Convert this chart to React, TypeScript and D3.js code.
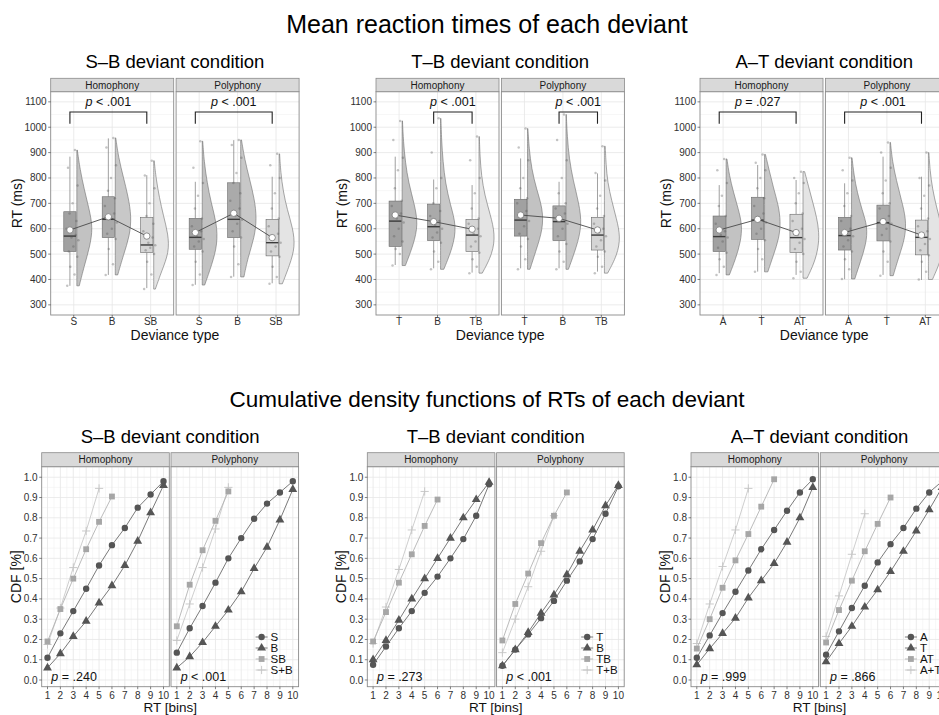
import * as d3 from "d3";

const FONT = "'Liberation Sans', Arial, Helvetica, sans-serif";
const FACETS = ["Homophony", "Polyphony"];

// ---------- mean RTs (top row) ----------
const typesSB = ["S", "B", "SB"];
const typesTB = ["T", "B", "TB"];
const typesAT = ["A", "T", "AT"];

// [lower whisker, q1, median, q3, upper whisker, mean] (ms)
const boxSBHom = [[375, 510, 571, 667, 884, 595], [418, 565, 637, 726, 956, 647], [366, 506, 536, 644, 811, 571]];
const boxSBPol = [[379, 519, 566, 641, 785, 585], [411, 565, 637, 781, 949, 661], [385, 493, 545, 637, 805, 565]];
const boxTBHom = [[457, 530, 630, 709, 884, 654], [444, 553, 608, 697, 794, 628], [427, 510, 575, 637, 772, 598]];
const boxTBPol = [[444, 571, 634, 716, 877, 654], [444, 553, 628, 690, 785, 641], [431, 516, 575, 645, 818, 595]];
const boxATHom = [[425, 510, 569, 650, 772, 595], [431, 558, 634, 724, 851, 637], [418, 506, 565, 657, 792, 585]];
const boxATPol = [[401, 516, 573, 645, 779, 585], [418, 552, 624, 693, 884, 628], [398, 497, 566, 634, 805, 575]];

// half violin widths (relative), 8 steps from lowest to highest RT of the group
const violSBHom = [[0.15, 0.45, 0.8, 1, 0.75, 0.45, 0.2, 0.03], [0.15, 0.5, 0.9, 1, 0.8, 0.5, 0.2, 0.03], [0.1, 0.5, 0.95, 0.9, 0.6, 0.35, 0.15, 0.03]];
const violSBPol = [[0.15, 0.6, 0.95, 0.9, 0.55, 0.3, 0.12, 0.03], [0.2, 0.45, 0.85, 1, 0.85, 0.55, 0.25, 0.05], [0.2, 0.65, 1, 0.85, 0.5, 0.25, 0.1, 0.03]];
const violTBHom = [[0.2, 0.7, 1, 0.75, 0.4, 0.2, 0.08, 0.02], [0.2, 0.75, 1, 0.6, 0.3, 0.15, 0.06, 0.02], [0.2, 0.85, 1, 0.7, 0.35, 0.15, 0.06, 0.02]];
const violTBPol = [[0.15, 0.55, 0.95, 0.95, 0.55, 0.25, 0.1, 0.02], [0.15, 0.65, 1, 0.8, 0.45, 0.2, 0.08, 0.02], [0.2, 0.8, 1, 0.75, 0.45, 0.2, 0.1, 0.05]];
const violATHom = [[0.2, 0.6, 0.9, 1, 0.75, 0.45, 0.2, 0.05], [0.2, 0.55, 0.9, 1, 0.85, 0.55, 0.3, 0.05], [0.25, 0.7, 0.95, 1, 0.85, 0.6, 0.35, 0.1]];
const violATPol = [[0.2, 0.55, 0.9, 1, 0.65, 0.35, 0.15, 0.03], [0.2, 0.55, 0.95, 1, 0.7, 0.4, 0.15, 0.03], [0.25, 0.75, 1, 0.8, 0.5, 0.25, 0.1, 0.03]];

// participant RTs (ms), a subset of the raw points
const ptsSBHom = [
  [375, 420, 450, 490, 510, 530, 555, 565, 575, 600, 630, 660, 700, 770, 840, 910],
  [418, 460, 520, 560, 580, 600, 625, 640, 660, 690, 720, 750, 800, 850, 920, 958],
  [362, 420, 470, 500, 515, 525, 535, 545, 565, 590, 620, 650, 700, 760, 810, 868],
];
const ptsSBPol = [
  [378, 420, 470, 510, 530, 550, 560, 570, 590, 610, 640, 680, 730, 780, 840, 945],
  [410, 460, 530, 565, 590, 620, 635, 650, 680, 710, 740, 780, 820, 880, 930, 950],
  [383, 410, 450, 490, 510, 530, 545, 560, 580, 610, 640, 680, 740, 800, 850, 895],
];
const ptsTBHom = [
  [455, 500, 520, 550, 570, 600, 625, 640, 660, 690, 710, 760, 830, 880, 950, 1025],
  [440, 470, 510, 545, 565, 585, 600, 615, 630, 650, 670, 700, 760, 800, 900, 1035],
  [425, 450, 480, 505, 530, 550, 570, 580, 600, 620, 640, 680, 740, 800, 870, 963],
];
const ptsTBPol = [
  [440, 480, 530, 560, 580, 610, 630, 645, 670, 700, 720, 760, 800, 870, 920, 995],
  [440, 470, 510, 540, 570, 600, 620, 635, 660, 680, 700, 740, 800, 870, 950, 1050],
  [425, 450, 490, 510, 530, 555, 570, 585, 600, 620, 650, 680, 730, 790, 820, 925],
];
const ptsATHom = [
  [418, 450, 480, 505, 525, 550, 565, 575, 590, 620, 650, 690, 730, 780, 830, 875],
  [430, 480, 520, 555, 580, 600, 625, 640, 660, 690, 720, 760, 800, 830, 860, 893],
  [405, 430, 470, 500, 520, 545, 560, 575, 600, 630, 660, 700, 740, 780, 800, 825],
];
const ptsATPol = [
  [402, 440, 480, 510, 530, 555, 570, 585, 600, 630, 650, 690, 740, 790, 830, 880],
  [415, 470, 510, 550, 575, 600, 620, 635, 650, 680, 700, 740, 790, 840, 900, 940],
  [400, 430, 470, 495, 515, 540, 560, 575, 590, 610, 640, 680, 730, 770, 800, 900],
];

const bracketSB = ["S", "SB"];
const bracketTB = ["B", "TB"];
const bracketAT = ["A", "AT"];
const pSB = ["< .001", "< .001"];
const pTB = ["< .001", "< .001"];
const pAT = ["= .027", "< .001"];
const rtTicks = [300, 400, 500, 600, 700, 800, 900, 1000, 1100];

// ---------- CDFs (bottom row) ----------
const binTicks = [1, 2, 3, 4, 5, 6, 7, 8, 9, 10];
const cdfTicks = [0, 0.1, 0.2, 0.3, 0.4, 0.5, 0.6, 0.7, 0.8, 0.9, 1.0];
const seriesSB = ["S", "B", "SB", "S+B"];
const seriesTB = ["T", "B", "TB", "T+B"];
const seriesAT = ["A", "T", "AT", "A+T"];

const cdfSBHom = [
  [0.11, 0.23, 0.34, 0.45, 0.565, 0.665, 0.75, 0.85, 0.915, 0.98],
  [0.06, 0.13, 0.215, 0.29, 0.38, 0.465, 0.565, 0.685, 0.825, 0.96],
  [0.19, 0.35, 0.5, 0.645, 0.78, 0.905],
  [0.175, 0.355, 0.555, 0.735, 0.945],
];
const cdfSBPol = [
  [0.135, 0.255, 0.365, 0.48, 0.6, 0.7, 0.795, 0.87, 0.925, 0.98],
  [0.06, 0.115, 0.185, 0.265, 0.345, 0.435, 0.55, 0.655, 0.79, 0.94],
  [0.265, 0.47, 0.64, 0.785, 0.93],
  [0.195, 0.375, 0.555, 0.745, 0.95],
];
const cdfTBHom = [
  [0.075, 0.165, 0.255, 0.34, 0.43, 0.51, 0.6, 0.695, 0.81, 0.965],
  [0.1, 0.195, 0.295, 0.4, 0.5, 0.6, 0.7, 0.8, 0.89, 0.975],
  [0.19, 0.335, 0.48, 0.62, 0.76, 0.89],
  [0.18, 0.36, 0.545, 0.74, 0.93],
];
const cdfTBPol = [
  [0.07, 0.15, 0.225, 0.305, 0.39, 0.49, 0.585, 0.695, 0.82, 0.955],
  [0.07, 0.15, 0.235, 0.33, 0.42, 0.52, 0.635, 0.74, 0.86, 0.96],
  [0.195, 0.375, 0.525, 0.675, 0.81, 0.925],
  [0.135, 0.3, 0.46, 0.635, 0.81],
];
const cdfATHom = [
  [0.11, 0.22, 0.33, 0.435, 0.54, 0.645, 0.74, 0.835, 0.925, 0.99],
  [0.075, 0.155, 0.23, 0.305, 0.405, 0.49, 0.575, 0.68, 0.8, 0.95],
  [0.155, 0.3, 0.455, 0.59, 0.72, 0.855, 0.99],
  [0.18, 0.375, 0.56, 0.74, 0.945],
];
const cdfATPol = [
  [0.125, 0.24, 0.355, 0.465, 0.58, 0.67, 0.75, 0.845, 0.925, 0.98],
  [0.09, 0.18, 0.265, 0.36, 0.445, 0.535, 0.635, 0.735, 0.84, 0.95],
  [0.185, 0.345, 0.49, 0.635, 0.77, 0.9],
  [0.215, 0.415, 0.62, 0.82],
];
const pCdfSB = ["= .240", "< .001"];
const pCdfTB = ["= .273", "< .001"];
const pCdfAT = ["= .999", "= .866"];

const rtRows = [
  { title: "S–B deviant condition", types: typesSB, box: [boxSBHom, boxSBPol], viol: [violSBHom, violSBPol], pts: [ptsSBHom, ptsSBPol], bracket: bracketSB, p: pSB },
  { title: "T–B deviant condition", types: typesTB, box: [boxTBHom, boxTBPol], viol: [violTBHom, violTBPol], pts: [ptsTBHom, ptsTBPol], bracket: bracketTB, p: pTB },
  { title: "A–T deviant condition", types: typesAT, box: [boxATHom, boxATPol], viol: [violATHom, violATPol], pts: [ptsATHom, ptsATPol], bracket: bracketAT, p: pAT },
];
const cdfRows = [
  { title: "S–B deviant condition", names: seriesSB, cdf: [cdfSBHom, cdfSBPol], p: pCdfSB },
  { title: "T–B deviant condition", names: seriesTB, cdf: [cdfTBHom, cdfTBPol], p: pCdfTB },
  { title: "A–T deviant condition", names: seriesAT, cdf: [cdfATHom, cdfATPol], p: pCdfAT },
];

// ---------- layout ----------
const RT_LEFTS = [50.7, 376, 700];
const RT_W = 123;
const RT_GAP = 2.4;
const RT_TOP = 91.7, RT_BOTTOM = 315, RT_STRIP = 13.4;

const CDF_LEFTS = [41.7, 367.3, 691];
const CDF_W = 127.6;
const CDF_GAP = 1.7;
const CDF_TOP = 466.7, CDF_BOTTOM = 686.7, CDF_STRIP = 14;

const JITTER = [-0.14, 0.05, -0.06, 0.12, -0.1, 0.02, 0.15, -0.03, 0.08, -0.16, 0.1, -0.08, 0.0, 0.13, -0.12, 0.06];
const BOX_FILL = ["#a1a1a1", "#aaaaaa", "#d5d5d5"];
const VIOL_FILL = ["#c2c2c2", "#c8c8c8", "#e4e4e4"];
const GRID_MAJOR = "#e6e6e6";
const GRID_MINOR = "#f2f2f2";
const BORDER = "#8a8a8a";
const TXT = "#303030";

const SYMBOLS = [d3.symbolCircle, d3.symbolTriangle, d3.symbolSquare, d3.symbolPlus];
const SYM_SIZE = [32, 34, 34, 24];
const SYM_COLOR = ["#555555", "#555555", "#a6a6a6", "#c4c4c4"];
const LINE_COLOR = ["#6b6b6b", "#6b6b6b", "#b3b3b3", "#c8c8c8"];

function Strip({ x0, w, y0, h, label }: any) {
  return (
    <g>
      <rect x={x0} y={y0} width={w} height={h} fill="#d9d9d9" stroke={BORDER} strokeWidth={0.8} />
      <text x={x0 + w / 2} y={y0 + h / 2 + 3.6} textAnchor="middle" fontSize={10} fill="#1a1a1a">{label}</text>
    </g>
  );
}

function PText({ x, y, rest, anchor }: any) {
  return (
    <text x={x} y={y} textAnchor={anchor} fontSize={12.5} fill="#111">
      <tspan fontStyle="italic">p</tspan>{" " + rest}
    </text>
  );
}

function RTPanel({ left, facet, row }: any) {
  const right = left + RT_W;
  const x = d3.scalePoint<string>().domain(row.types).range([left, right]).padding(0.6);
  const step = x.step();
  const y = d3.scaleLinear().domain([260, 1140]).range([RT_BOTTOM, RT_TOP]);
  const bx = (t: string) => (x(t) as number) - 0.1 * step;
  const boxW = 0.32 * step;
  const vW = 0.42 * step;
  const box = row.box[facet];
  const viol = row.viol[facet];
  const pts = row.pts[facet];
  const minors = d3.range(350, 1140, 100);
  const meanLine = d3.line<string>().x((t) => bx(t)).y((t, i) => y(box[i][5]));
  const [b0, b1] = row.bracket;

  return (
    <g>
      <rect x={left} y={RT_TOP} width={RT_W} height={RT_BOTTOM - RT_TOP} fill="#fff" />
      {minors.map((v) => <line key={"n" + v} x1={left} x2={right} y1={y(v)} y2={y(v)} stroke={GRID_MINOR} strokeWidth={0.6} />)}
      {rtTicks.map((v) => <line key={"m" + v} x1={left} x2={right} y1={y(v)} y2={y(v)} stroke={GRID_MAJOR} strokeWidth={0.8} />)}
      {row.types.map((t: string) => <line key={"v" + t} x1={x(t)} x2={x(t)} y1={RT_TOP} y2={RT_BOTTOM} stroke={GRID_MAJOR} strokeWidth={0.8} />)}

      {row.types.map((t: string, i: number) => {
        const lo = d3.min(pts[i]) as number;
        const hi = d3.max(pts[i]) as number;
        const v0 = (x(t) as number) + 0.08 * step;
        const knots = viol[i].map((w: number, k: number) => [lo + (k * (hi - lo)) / (viol[i].length - 1), w]);
        const area = d3.area<number[]>().curve(d3.curveBasis).y((d) => y(d[0])).x0(v0).x1((d) => v0 + d[1] * vW);
        return <path key={"vi" + t} d={area(knots) as string} fill={VIOL_FILL[i]} stroke="#6e6e6e" strokeWidth={0.6} />;
      })}

      {row.types.map((t: string, i: number) => {
        const [lo, q1, med, q3, hi] = box[i];
        const c = bx(t);
        return (
          <g key={"bx" + t}>
            <line x1={c} x2={c} y1={y(lo)} y2={y(q1)} stroke="#777" strokeWidth={0.7} />
            <line x1={c} x2={c} y1={y(q3)} y2={y(hi)} stroke="#777" strokeWidth={0.7} />
            <rect x={c - boxW / 2} y={y(q3)} width={boxW} height={y(q1) - y(q3)} fill={BOX_FILL[i]} stroke="#6a6a6a" strokeWidth={0.6} />
            <line x1={c - boxW / 2} x2={c + boxW / 2} y1={y(med)} y2={y(med)} stroke="#3a3a3a" strokeWidth={1.4} />
          </g>
        );
      })}

      {row.types.map((t: string, i: number) =>
        pts[i].map((v: number, k: number) => (
          <circle key={"p" + t + k} cx={(x(t) as number) - 0.03 * step + JITTER[k % JITTER.length] * step} cy={y(v)} r={1.25} fill="#555" fillOpacity={0.35} />
        ))
      )}

      <path d={meanLine(row.types) as string} fill="none" stroke="#4a4a4a" strokeWidth={0.9} />
      {row.types.map((t: string, i: number) => (
        <circle key={"mn" + t} cx={bx(t)} cy={y(box[i][5])} r={3.2} fill="#fff" stroke="#777" strokeWidth={0.8} />
      ))}

      <path d={`M${bx(b0)},${y(1014)}V${y(1060)}H${bx(b1)}V${y(1014)}`} fill="none" stroke="#222" strokeWidth={1.1} />
      <PText x={(bx(b0) + bx(b1)) / 2} y={y(1083)} rest={row.p[facet]} anchor="middle" />

      <rect x={left} y={RT_TOP} width={RT_W} height={RT_BOTTOM - RT_TOP} fill="none" stroke={BORDER} strokeWidth={0.9} />
      <Strip x0={left} w={RT_W} y0={RT_TOP - RT_STRIP} h={RT_STRIP} label={FACETS[facet]} />

      {row.types.map((t: string) => (
        <g key={"xt" + t}>
          <line x1={x(t)} x2={x(t)} y1={RT_BOTTOM} y2={RT_BOTTOM + 2.5} stroke={TXT} strokeWidth={0.6} />
          <text x={x(t)} y={RT_BOTTOM + 9.5} textAnchor="middle" fontSize={10} fill={TXT}>{t}</text>
        </g>
      ))}
      {facet === 0 && rtTicks.map((v) => (
        <g key={"yt" + v}>
          <line x1={left - 2.5} x2={left} y1={y(v)} y2={y(v)} stroke={TXT} strokeWidth={0.6} />
          <text x={left - 4} y={y(v) + 3.5} textAnchor="end" fontSize={10} fill={TXT}>{v}</text>
        </g>
      ))}
    </g>
  );
}

function CDFPanel({ left, facet, row }: any) {
  const right = left + CDF_W;
  const x = d3.scaleLinear().domain([0.55, 10.45]).range([left, right]);
  const y = d3.scaleLinear().domain([-0.033, 1.052]).range([CDF_BOTTOM, CDF_TOP]);
  const xMinor = d3.range(1.5, 10, 1);
  const yMinor = d3.range(0.05, 1.06, 0.1);
  const series = row.cdf[facet];
  const line = d3.line<number>().x((v, i) => x(binTicks[i])).y((v) => y(v));
  const order = [3, 2, 1, 0];
  const kx = right - 37;

  return (
    <g>
      <rect x={left} y={CDF_TOP} width={CDF_W} height={CDF_BOTTOM - CDF_TOP} fill="#fff" />
      {xMinor.map((v) => <line key={"xn" + v} x1={x(v)} x2={x(v)} y1={CDF_TOP} y2={CDF_BOTTOM} stroke={GRID_MINOR} strokeWidth={0.6} />)}
      {yMinor.map((v) => <line key={"yn" + v} x1={left} x2={right} y1={y(v)} y2={y(v)} stroke={GRID_MINOR} strokeWidth={0.6} />)}
      {binTicks.map((v) => <line key={"xm" + v} x1={x(v)} x2={x(v)} y1={CDF_TOP} y2={CDF_BOTTOM} stroke={GRID_MAJOR} strokeWidth={0.8} />)}
      {cdfTicks.map((v) => <line key={"ym" + v} x1={left} x2={right} y1={y(v)} y2={y(v)} stroke={GRID_MAJOR} strokeWidth={0.8} />)}

      {order.map((s) => (
        <g key={"s" + s}>
          <path d={line(series[s]) as string} fill="none" stroke={LINE_COLOR[s]} strokeWidth={0.9} />
          {series[s].map((v: number, i: number) => {
            const sym = d3.symbol(SYMBOLS[s], SYM_SIZE[s]);
            return s === 3 ? (
              <path key={i} d={sym() as string} transform={`translate(${x(binTicks[i])},${y(v)})`} fill="none" stroke={SYM_COLOR[s]} strokeWidth={0.9} />
            ) : (
              <path key={i} d={sym() as string} transform={`translate(${x(binTicks[i])},${y(v)})`} fill={SYM_COLOR[s]} />
            );
          })}
        </g>
      ))}

      <PText x={x(1.3)} y={y(-0.004)} rest={row.p[facet]} anchor="start" />

      {facet === 1 && row.names.map((n: string, s: number) => {
        const ly = 637 + s * 11;
        const sym = d3.symbol(SYMBOLS[s], SYM_SIZE[s]);
        return (
          <g key={"lg" + n}>
            <line x1={kx - 6} x2={kx + 6} y1={ly} y2={ly} stroke={LINE_COLOR[s]} strokeWidth={0.9} />
            <path d={sym() as string} transform={`translate(${kx},${ly})`} fill={s === 3 ? "none" : SYM_COLOR[s]} stroke={s === 3 ? SYM_COLOR[s] : "none"} strokeWidth={0.9} />
            <text x={kx + 9} y={ly + 4.2} fontSize={11.5} fill="#111">{n}</text>
          </g>
        );
      })}

      <rect x={left} y={CDF_TOP} width={CDF_W} height={CDF_BOTTOM - CDF_TOP} fill="none" stroke={BORDER} strokeWidth={0.9} />
      <Strip x0={left} w={CDF_W} y0={CDF_TOP - CDF_STRIP} h={CDF_STRIP} label={FACETS[facet]} />

      {binTicks.map((v) => (
        <g key={"xt" + v}>
          <line x1={x(v)} x2={x(v)} y1={CDF_BOTTOM} y2={CDF_BOTTOM + 2.5} stroke={TXT} strokeWidth={0.6} />
          <text x={x(v)} y={CDF_BOTTOM + 11.8} textAnchor="middle" fontSize={10} fill={TXT}>{v}</text>
        </g>
      ))}
      {facet === 0 && cdfTicks.map((v) => (
        <g key={"yt" + v}>
          <line x1={left - 2.5} x2={left} y1={y(v)} y2={y(v)} stroke={TXT} strokeWidth={0.6} />
          <text x={left - 4} y={y(v) + 3.5} textAnchor="end" fontSize={10} fill={TXT}>{v.toFixed(1)}</text>
        </g>
      ))}
    </g>
  );
}

export default function App() {
  return (
    <svg width={939} height={715} style={{ position: "absolute", left: 0, top: 0, background: "#fff" }} fontFamily={FONT}>
      <text x={487} y={33} textAnchor="middle" fontSize={25} fill="#000">Mean reaction times of each deviant</text>
      <text x={487} y={407} textAnchor="middle" fontSize={22.5} fill="#000">Cumulative density functions of RTs of each deviant</text>

      {rtRows.map((row, c) => {
        const l = RT_LEFTS[c];
        const mid = l + RT_W + RT_GAP / 2;
        const cy = (RT_TOP + RT_BOTTOM) / 2;
        return (
          <g key={"rt" + c}>
            <text x={mid} y={68.3} textAnchor="middle" fontSize={18.5} fill="#000">{row.title}</text>
            <RTPanel left={l} facet={0} row={row} />
            <RTPanel left={l + RT_W + RT_GAP} facet={1} row={row} />
            <text x={mid} y={340} textAnchor="middle" fontSize={14} fill="#111">Deviance type</text>
            <text transform={`translate(${l - 34},${cy}) rotate(-90)`} y={5} textAnchor="middle" fontSize={14} fill="#111">RT (ms)</text>
          </g>
        );
      })}

      {cdfRows.map((row, c) => {
        const l = CDF_LEFTS[c];
        const mid = l + CDF_W + CDF_GAP / 2;
        const cy = (CDF_TOP + CDF_BOTTOM) / 2;
        return (
          <g key={"cdf" + c}>
            <text x={mid} y={442.7} textAnchor="middle" fontSize={18.5} fill="#000">{row.title}</text>
            <CDFPanel left={l} facet={0} row={row} />
            <CDFPanel left={l + CDF_W + CDF_GAP} facet={1} row={row} />
            <text x={mid} y={712} textAnchor="middle" fontSize={13.5} fill="#111">RT [bins]</text>
            <text transform={`translate(${l - 26},${cy}) rotate(-90)`} y={5} textAnchor="middle" fontSize={14} fill="#111">CDF [%]</text>
          </g>
        );
      })}
    </svg>
  );
}
